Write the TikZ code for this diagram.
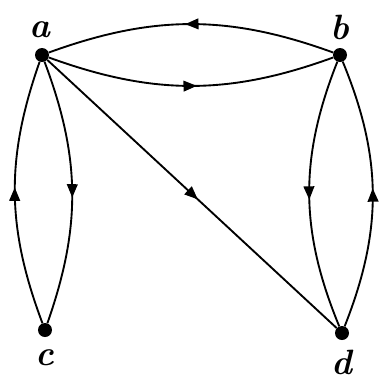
\documentclass[tikz,border=0pt]{standalone}
\usepackage{tikz}
\usetikzlibrary{arrows.meta, positioning, decorations.markings}

\begin{document}
\begin{tikzpicture}[
            x=0.03cm, y=-0.03cm,
            node distance=2pt and 2pt,
            vertex/.style={circle, fill=black, inner sep=0pt, minimum size=0.42cm},
            lbl/.style={font=\fontsize{30}{32}\selectfont\bfseries\itshape, inner sep=0pt},
            arr/.style={line width=1.6pt, postaction={decorate},
                        decoration={markings, mark=at position 0.52 with
                          {\arrow{Triangle[length=0.4cm, width=0.32cm]}}}}]

            \useasboundingbox (0,0) rectangle (383,381);

            %% -- Vertices -------------------------------------------------
            \node[vertex] (a) at (42,55)   {};
            \node[vertex] (b) at (340,55)  {};
            \node[vertex] (c) at (45,330)  {};
            \node[vertex] (d) at (342,333) {};

            \node[lbl, above=8pt of a, xshift=-2pt] {a};
            \node[lbl, above=7pt of b] {b};
            \node[lbl, below=10pt of c] {c};
            \node[lbl, below=8pt of d] {d};

            %% -- Edges ----------------------------------------------------
            \draw[arr, bend right=20] (b) to (a);
            \draw[arr, bend right=20] (a) to (b);

            \draw[arr, bend left=20] (c) to (a);
            \draw[arr, bend left=20] (a) to (c);

            \draw[arr, bend right=22] (b) to (d);
            \draw[arr, bend right=22] (d) to (b);

            \draw[arr] (a) to (d);

        \end{tikzpicture}
\end{document}
